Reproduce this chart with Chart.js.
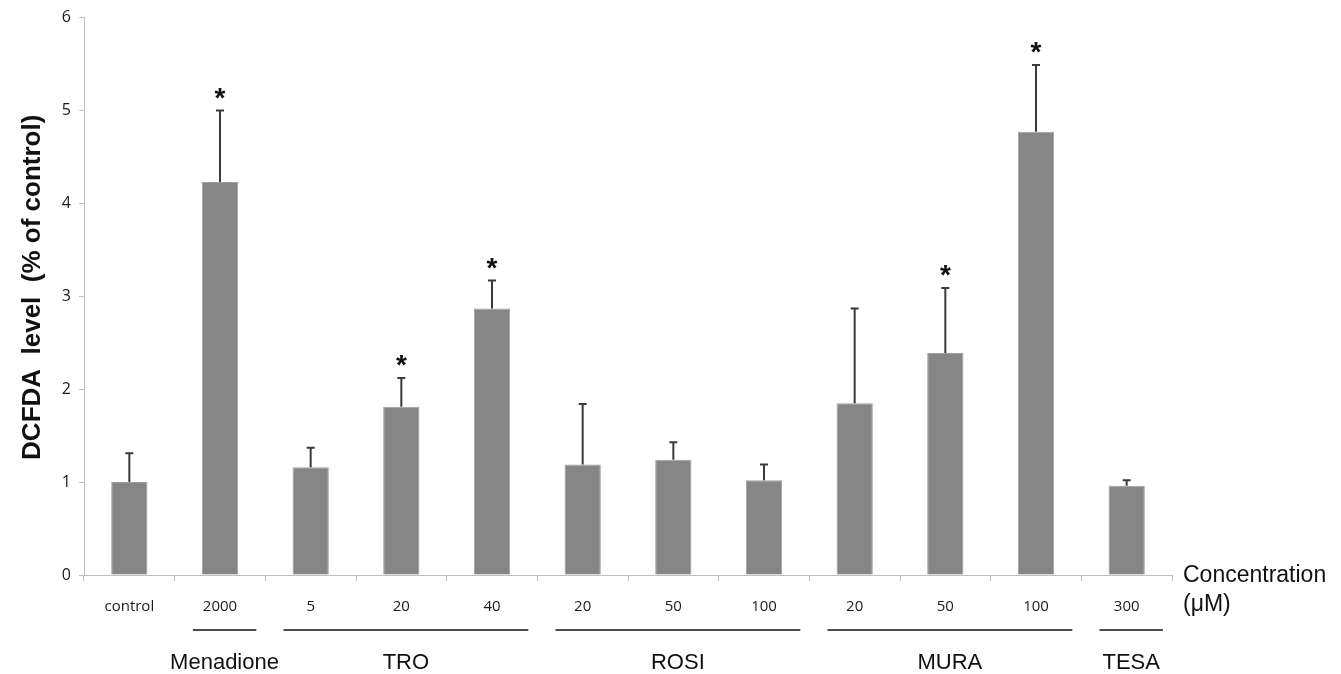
<!DOCTYPE html>
<html>
<head>
<meta charset="utf-8">
<script src="https://cdn.jsdelivr.net/npm/chart.js@4"></script>
<style>
  html, body { margin: 0; padding: 0; background: #fff; }
  #wrap { width: 1341px; height: 674px; }
</style>
</head>
<body>
<div id="wrap"><canvas id="chart"></canvas></div>
<script>
const doseLabels = ['control', '2000', '5', '20', '40', '20', '50', '100', '20', '50', '100', '300'];
const meanValues = [1.00, 4.23, 1.16, 1.81, 2.87, 1.19, 1.24, 1.02, 1.85, 2.39, 4.77, 0.96];
const errorSizes = [0.31, 0.77, 0.21, 0.31, 0.30, 0.65, 0.19, 0.17, 1.02, 0.70, 0.72, 0.06];
const significant = [false, true, false, true, true, false, false, false, false, true, true, false];
const groupNames = ['Menadione', 'TRO', 'ROSI', 'MURA', 'TESA'];
const groupStart = [1, 2, 5, 8, 11];
const groupEnd = [1, 4, 7, 10, 11];
const yTicks = [0, 1, 2, 3, 4, 5, 6];

const axisGray = '#bfbfbf';

// error bars, asterisks, group lines and the extra axis texts
const annotate = {
  id: 'annotate',
  afterDatasetsDraw(chart) {
    const { ctx, scales: { x, y } } = chart;
    const meta = chart.getDatasetMeta(0);
    ctx.save();

    meta.data.forEach((bar, i) => {
      const top = y.getPixelForValue(meanValues[i] + errorSizes[i]);
      ctx.strokeStyle = '#3a3a3a';
      ctx.lineWidth = 2;
      ctx.beginPath();
      ctx.moveTo(bar.x, bar.y);
      ctx.lineTo(bar.x, top);
      ctx.moveTo(bar.x - 4, top);
      ctx.lineTo(bar.x + 4, top);
      ctx.stroke();

      if (significant[i]) {
        ctx.fillStyle = '#111';
        ctx.font = 'bold 28px "Liberation Sans", Arial, sans-serif';
        ctx.textAlign = 'center';
        ctx.textBaseline = 'alphabetic';
        ctx.fillText('*', bar.x, top - 21 + 17);
      }
    });

    const w = x.getPixelForValue(1) - x.getPixelForValue(0);
    ctx.strokeStyle = '#111';
    ctx.lineWidth = 1.5;
    ctx.fillStyle = '#111';
    ctx.font = '22px "Liberation Sans", Arial, sans-serif';
    ctx.textAlign = 'center';
    ctx.textBaseline = 'middle';
    groupNames.forEach((name, g) => {
      const left = x.getPixelForValue(groupStart[g]) - w / 2 + 0.2 * w;
      const right = x.getPixelForValue(groupEnd[g]) + w / 2 - 0.1 * w;
      const lineY = y.bottom + 55;
      ctx.beginPath();
      ctx.moveTo(left, lineY);
      ctx.lineTo(right, lineY);
      ctx.stroke();
      ctx.fillText(name, (left + right) / 2, y.bottom + 88);
    });

    ctx.textAlign = 'left';
    ctx.font = '23px "Liberation Sans", Arial, sans-serif';
    ctx.fillText('Concentration', x.right + 11, y.bottom + 1);
    ctx.fillText('(\u03BCM)', x.right + 11, y.bottom + 30);

    ctx.translate(33, (y.top + y.bottom) / 2 - 9);
    ctx.rotate(-Math.PI / 2);
    ctx.textAlign = 'center';
    ctx.font = 'bold 26px "Liberation Sans", Arial, sans-serif';
    ctx.fillText('DCFDA  level  (% of control)', 0, 0);
    ctx.restore();
  }
};

new Chart(document.getElementById('chart'), {
  type: 'bar',
  data: {
    labels: doseLabels,
    datasets: [{
      data: meanValues,
      backgroundColor: '#868686',
      borderColor: '#9e9e9e',
      borderWidth: 1,
      barPercentage: 0.4,
      categoryPercentage: 1
    }]
  },
  options: {
    responsive: true,
    maintainAspectRatio: false,
    animation: false,
    layout: { padding: { top: 17, right: 169, left: 0, bottom: 0 } },
    plugins: {
      legend: { display: false },
      tooltip: { enabled: false }
    },
    scales: {
      x: {
        offset: true,
        grid: { offset: true, drawOnChartArea: false, color: axisGray, tickLength: 6 },
        border: { color: axisGray },
        ticks: {
          padding: 17,
          maxRotation: 0,
          color: '#1a1a1a',
          font: { family: '"Open Sans", sans-serif', size: 15 }
        },
        afterFit(scale) { scale.height = 99; }
      },
      y: {
        min: 0,
        max: 6,
        afterBuildTicks(scale) { scale.ticks = yTicks.map(v => ({ value: v })); },
        grid: { drawOnChartArea: false, color: axisGray, tickLength: 5 },
        border: { color: axisGray },
        ticks: {
          padding: 8,
          color: '#1a1a1a',
          font: { family: '"Open Sans", sans-serif', size: 16 }
        },
        afterFit(scale) { scale.width = 84; }
      }
    }
  },
  plugins: [annotate]
});
</script>
</body>
</html>
